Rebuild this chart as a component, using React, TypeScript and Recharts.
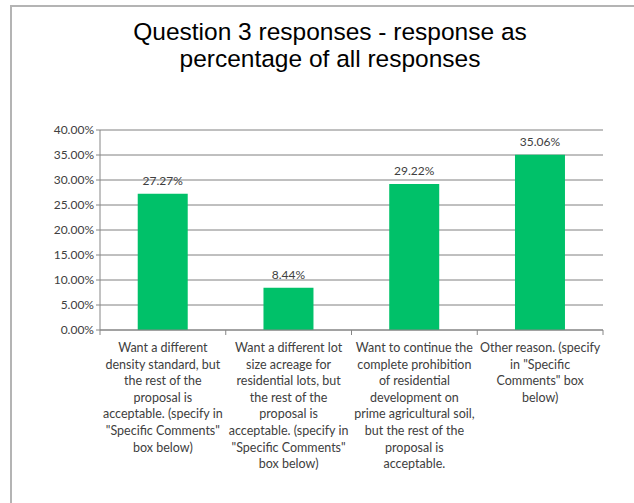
import React from "react"
import { Bar, BarChart, CartesianGrid, LabelList, XAxis, YAxis } from "recharts"

const categories = [
  "Want a different\ndensity standard, but\nthe rest of the\nproposal is\nacceptable. (specify in\n\"Specific Comments\"\nbox below)",
  "Want a different lot\nsize acreage for\nresidential lots, but\nthe rest of the\nproposal is\nacceptable. (specify in\n\"Specific Comments\"\nbox below)",
  "Want to continue the\ncomplete prohibition\nof residential\ndevelopment on\nprime agricultural soil,\nbut the rest of the\nproposal is\nacceptable.",
  "Other reason. (specify\nin \"Specific\nComments\" box\nbelow)",
]
const shares = [0.2727, 0.0844, 0.2922, 0.3506]
const yTicks = [0, 0.05, 0.1, 0.15, 0.2, 0.25, 0.3, 0.35, 0.4]

const data = categories.map((name, i) => ({ name, value: shares[i] }))

const pct = (v: number) => `${(v * 100).toFixed(2)}%`
const FONT = "Lato, 'Open Sans', sans-serif"

const CategoryTick = (props: any) => {
  const { x, y, payload, index, width, visibleTicksCount } = props
  const band = width / visibleTicksCount
  const lines = String(payload.value).split("\n")
  return (
    <g>
      <line x1={x - band / 2} x2={x - band / 2} y1={y - 8} y2={y - 3} stroke="#868686" />
      {index === visibleTicksCount - 1 && (
        <line x1={x + band / 2} x2={x + band / 2} y1={y - 8} y2={y - 3} stroke="#868686" />
      )}
      <text x={x} y={y + 14} textAnchor="middle" fontSize={12.5} fill="#404040" fontFamily={FONT}>
        {lines.map((l, i) => (
          <tspan key={i} x={x} dy={i === 0 ? 0 : 16.6}>
            {l}
          </tspan>
        ))}
      </text>
    </g>
  )
}

export default function App() {
  return (
    <div style={{ position: "absolute", left: 0, top: 0, width: 634, height: 503, background: "#fff" }}>
      <div
        style={{
          position: "absolute",
          left: 10,
          top: 5,
          right: -10,
          bottom: -10,
          borderTop: "2px solid #b4b4b4",
          borderLeft: "2px solid #b4b4b4",
        }}
      />
      <div
        style={{
          position: "absolute",
          left: 0,
          width: 660,
          top: 18,
          textAlign: "center",
          fontFamily: "'Liberation Sans', Arial, sans-serif",
          fontSize: 24.5,
          lineHeight: "27px",
          color: "#000",
        }}
      >
        Question 3 responses - response as
        <br />
        percentage of all responses
      </div>
      <div style={{ position: "absolute", left: 0, top: 0 }}>
        <BarChart
          width={634}
          height={503}
          data={data}
          margin={{ top: 130, right: 31, bottom: 23, left: 40 }}
          barCategoryGap="30%"
        >
          <CartesianGrid vertical={false} stroke="#808080" />
          <XAxis
            dataKey="name"
            interval={0}
            height={150}
            tickLine={false}
            stroke="#868686"
            tick={<CategoryTick />}
          />
          <YAxis
            width={60}
            domain={[0, 0.4]}
            ticks={yTicks}
            tickFormatter={pct}
            stroke="#868686"
            tickSize={4}
            tick={{ fontSize: 12, fill: "#404040", fontFamily: FONT }}
          />
          <Bar dataKey="value" fill="#00C169" isAnimationActive={false}>
            <LabelList
              dataKey="value"
              position="top"
              offset={9}
              formatter={(v: any) => pct(Number(v))}
              style={{ fontSize: 12, fill: "#404040", fontFamily: FONT }}
            />
          </Bar>
        </BarChart>
      </div>
    </div>
  )
}
